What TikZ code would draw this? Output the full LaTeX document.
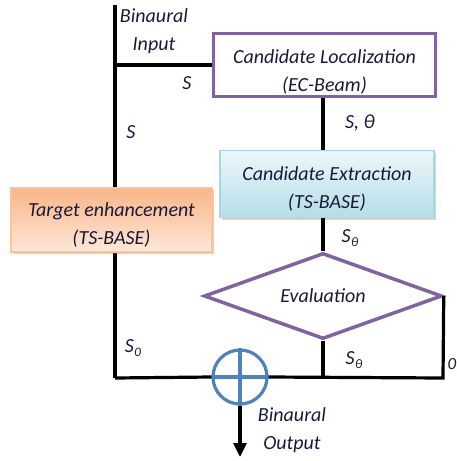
\documentclass[tikz,border=0pt]{standalone}
\usepackage{fontspec}
\setmainfont{Carlito}
\usetikzlibrary{shapes.geometric,shadows,arrows.meta}
\definecolor{purp}{HTML}{8064A2}
\definecolor{txt}{HTML}{1A1A3A}
\definecolor{sumblue}{HTML}{4F81BD}
\definecolor{bluetop}{HTML}{EEF7FA}
\definecolor{bluebot}{HTML}{B4DDE8}
\definecolor{blueline}{HTML}{A9D6E3}
\definecolor{orgtop}{HTML}{F9B588}
\definecolor{orgbot}{HTML}{FDE8DA}
\definecolor{orgline}{HTML}{F9C49C}
\begin{document}
\begin{tikzpicture}[x=1pt,y=-1pt,
  every node/.style={font=\fontsize{20}{28}\selectfont\itshape, text=txt},
  wire/.style={line width=3.2pt, black},
  locbox/.style={draw=purp, line width=3.5pt, fill=white,
    minimum width=222pt, minimum height=63pt, inner sep=0pt},
  extbox/.style={draw=blueline, line width=1.5pt, top color=bluetop, bottom color=bluebot,
    minimum width=214pt, minimum height=67pt, inner sep=0pt,
    drop shadow={opacity=0.35, shadow xshift=2pt, shadow yshift=-2pt}},
  tgtbox/.style={draw=orgline, line width=1.5pt, top color=orgtop, bottom color=orgbot,
    minimum width=201pt, minimum height=64pt, inner sep=0pt,
    drop shadow={opacity=0.35, shadow xshift=2pt, shadow yshift=-2pt}},
  evalbox/.style={diamond, draw=purp, line width=3.5pt, fill=white, aspect=2.75,
    minimum width=238pt, minimum height=86pt, inner sep=0pt},
  sumnode/.style={circle, draw=sumblue, line width=3.2pt, fill=white,
    minimum size=54pt, inner sep=0pt},
  lbl/.style={inner sep=0pt},
  boxtext/.style={inner sep=0pt, align=center}
]
\useasboundingbox (0,0) rectangle (457,461);

% coordinates
\coordinate (in) at (115,5);
\coordinate (bl) at (115,378);
\coordinate (br) at (443,378);
\coordinate (out) at (240,457);

% wires behind boxes
\draw[wire] (in) -- (bl);

% nodes
\node[locbox] (loc) at (324.5,65) {};
\node[boxtext] (loctext) at ([yshift=-7pt]loc.center) {Candidate Localization\\(EC-Beam)};
\node[extbox] (ext) at (327,184) {};
\node[boxtext] (exttext) at ([yshift=-4.5pt]ext.center) {Candidate Extraction\\(TS-BASE)};
\node[tgtbox] (tgt) at (111.5,220) {};
\node[boxtext] (tgttext) at ([yshift=-4.5pt]tgt.center) {Target enhancement\\(TS-BASE)};
\node[evalbox] (eval) at (323,296) {};
\node[boxtext] (evaltext) at (eval.center) {Evaluation};
\node[sumnode] (sum) at (240,377) {};
\draw[sumblue, line width=3.2pt] (sum.north) -- (sum.south);
\draw[sumblue, line width=3.2pt] (sum.west) -- (sum.east);

% connectors
\draw[wire] (in |- loc.west) -- (loc.west);
\draw[wire] (loc.south -| eval.north) -- (ext.north -| eval.north);
\draw[wire] (ext.south -| eval.north) -- (eval.north);
\draw[wire] (eval.south) -- (eval.south |- sum.center);
\draw[wire] (bl) -- (sum.west);
\draw[wire] (eval.east) -- (br) -- (sum.east);
\draw[wire, -{Triangle[length=14pt,width=13pt]}] (sum.south) -- (out);

% labels
\node[lbl, align=center] (binin) at (154,31) {Binaural\\Input};
\node[lbl] (s1) at (187,83) {S};
\node[lbl] (s2) at (131,132) {S};
\node[lbl] (sth1) at (360,123) {S, θ};
\node[lbl] (sth2) at (350,238) {S\kern0.5pt\raisebox{-4pt}{\fontsize{13}{13}\selectfont θ}};
\node[lbl] (s0) at (133,348) {S\kern0.5pt\raisebox{-4pt}{\fontsize{13}{13}\selectfont 0}};
\node[lbl] (sth3) at (354,360) {S\kern0.5pt\raisebox{-4pt}{\fontsize{13}{13}\selectfont θ}};
\node[lbl] (zero) at (452,364) {\fontsize{17}{17}\selectfont 0};
\node[lbl, align=center] (binout) at (292,430) {Binaural\\Output};
\end{tikzpicture}
\end{document}
